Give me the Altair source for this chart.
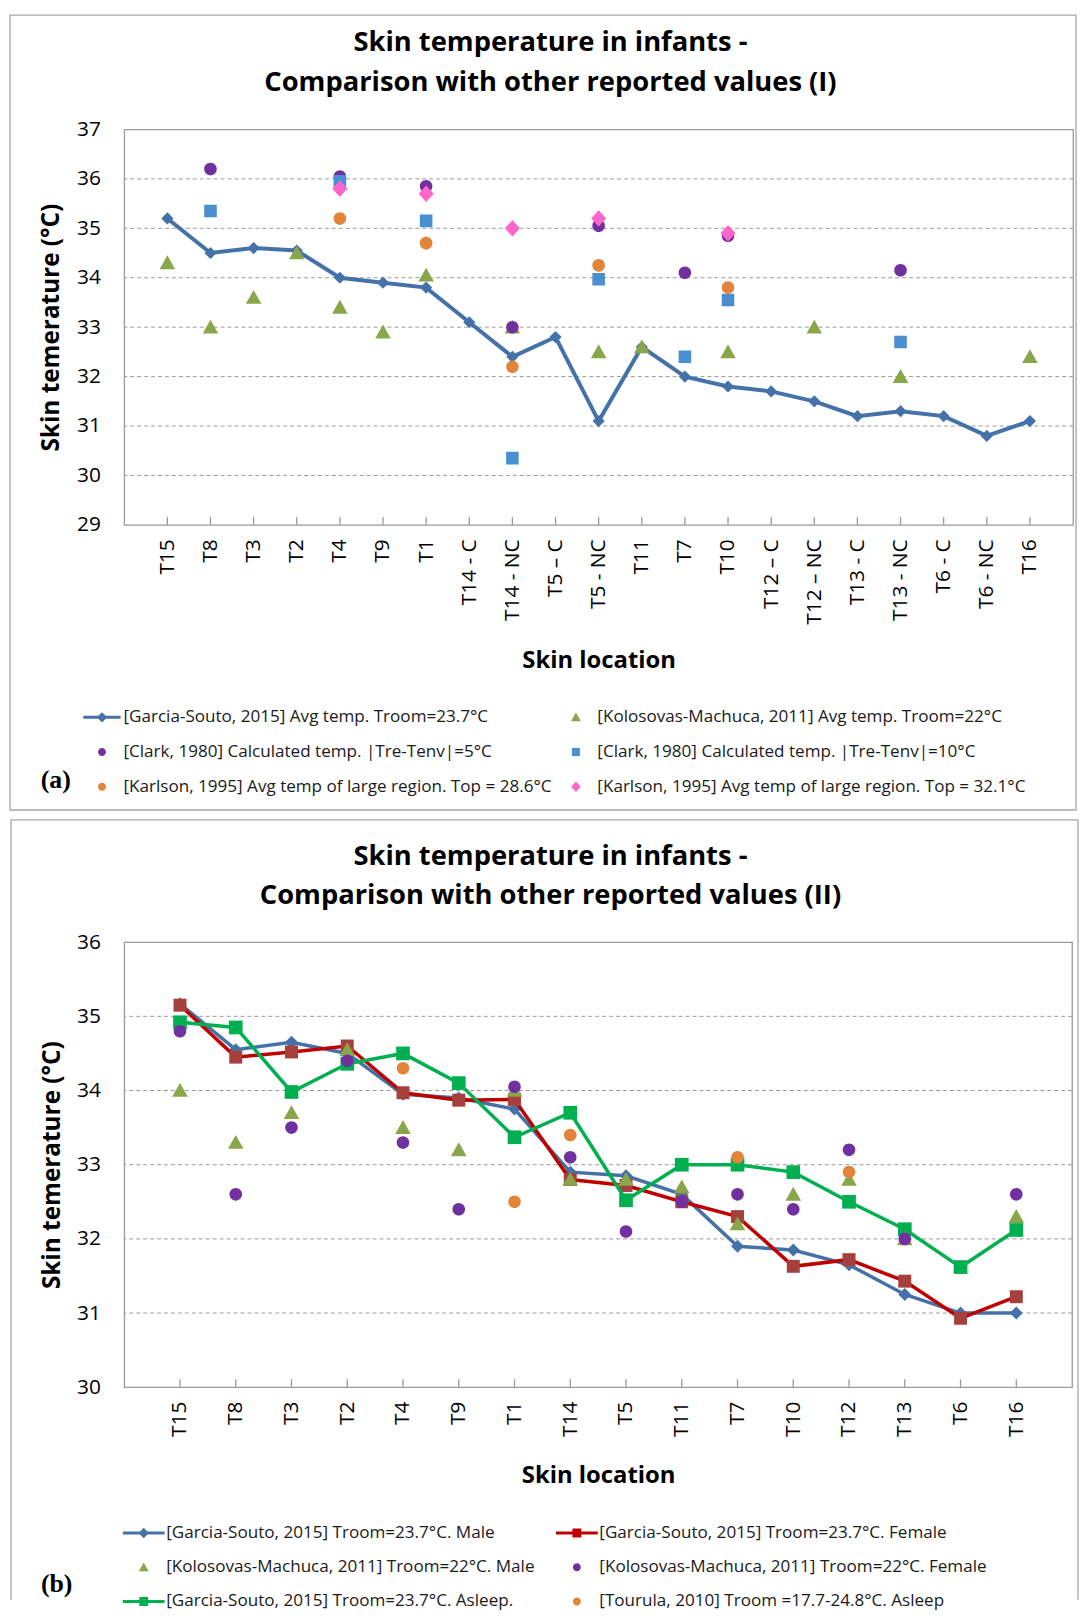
import altair as alt
import pandas as pd

# ---------------- panel (a) data ----------------
cats_a = ["T15", "T8", "T3", "T2", "T4", "T9", "T1", "T14 - C", "T14 - NC", "T5 – C",
          "T5 - NC", "T11", "T7", "T10", "T12 – C", "T12 – NC", "T13 - C", "T13 - NC",
          "T6 - C", "T6 - NC", "T16"]
names_a = ["[Garcia-Souto, 2015] Avg temp. Troom=23.7°C",
           "[Kolosovas-Machuca, 2011] Avg temp. Troom=22°C",
           "[Clark, 1980] Calculated temp. |Tre-Tenv|=5°C",
           "[Clark, 1980] Calculated temp. |Tre-Tenv|=10°C",
           "[Karlson, 1995] Avg temp of large region. Top = 28.6°C",
           "[Karlson, 1995] Avg temp of large region. Top = 32.1°C"]
garcia_a = [35.2, 34.5, 34.6, 34.55, 34.0, 33.9, 33.8, 33.1, 32.4, 32.8, 31.1, 32.6, 32.0,
            31.8, 31.7, 31.5, 31.2, 31.3, 31.2, 30.8, 31.1]
kolos_a = [34.3, 33.0, 33.6, 34.5, 33.4, 32.9, 34.05, None, 33.0, None, 32.5, 32.6, None,
           32.5, None, 33.0, None, 32.0, None, None, 32.4]
clark5_a = [None, 36.2, None, None, 36.05, None, 35.85, None, 33.0, None, 35.05, None, 34.1,
            34.85, None, None, None, 34.15, None, None, None]
clark10_a = [None, 35.35, None, None, 35.95, None, 35.15, None, 30.35, None, 33.97, None, 32.4,
             33.55, None, None, None, 32.7, None, None, None]
karl286_a = [None, None, None, None, 35.2, None, 34.7, None, 32.2, None, 34.25, None, None,
             33.8, None, None, None, None, None, None, None]
karl321_a = [None, None, None, None, 35.8, None, 35.7, None, 35.0, None, 35.2, None, None,
             34.9, None, None, None, None, None, None, None]
yticks_a = [29, 30, 31, 32, 33, 34, 35, 36, 37]
grid_a = [30, 31, 32, 33, 34, 35, 36]

# ---------------- panel (b) data ----------------
cats_b = ["T15", "T8", "T3", "T2", "T4", "T9", "T1", "T14", "T5", "T11", "T7", "T10", "T12",
          "T13", "T6", "T16"]
names_b = ["[Garcia-Souto, 2015] Troom=23.7°C. Male",
           "[Garcia-Souto, 2015] Troom=23.7°C. Female",
           "[Kolosovas-Machuca, 2011] Troom=22°C. Male",
           "[Kolosovas-Machuca, 2011] Troom=22°C. Female",
           "[Garcia-Souto, 2015] Troom=23.7°C. Asleep.",
           "[Tourula, 2010] Troom =17.7-24.8°C. Asleep"]
male_b = [35.17, 34.55, 34.65, 34.5, 33.95, 33.9, 33.75, 32.9, 32.85, 32.6, 31.9, 31.85,
          31.65, 31.25, 31.0, 31.0]
female_b = [35.15, 34.45, 34.52, 34.6, 33.97, 33.87, 33.88, 32.8, 32.72, 32.5, 32.3, 31.63,
            31.72, 31.43, 30.93, 31.22]
kmale_b = [34.0, 33.3, 33.7, 34.55, 33.5, 33.2, 34.0, 32.8, 32.8, 32.7, 32.2, 32.6, 32.8,
           32.0, None, 32.3]
kfemale_b = [34.8, 32.6, 33.5, 34.4, 33.3, 32.4, 34.05, 33.1, 32.1, 32.5, 32.6, 32.4, 33.2,
             32.0, None, 32.6]
asleep_b = [34.92, 34.85, 33.98, 34.36, 34.5, 34.1, 33.37, 33.7, 32.52, 33.0, 33.0, 32.9,
            32.5, 32.13, 31.62, 32.12]
tourula_b = [None, None, None, None, 34.3, None, 32.5, 33.4, None, None, 33.1, None, 32.9,
             None, None, None]
yticks_b = [30, 31, 32, 33, 34, 35, 36]
grid_b = [31, 32, 33, 34, 35]

# ---------------- styling ----------------
FONT = "Open Sans"
GRIDC = "#9a9a9a"
FRAMEC = "#a6a6a6"
BLUE_LINE = "#4472A8"
GREEN_TRI = "#8AA64A"
PURPLE = "#7030A0"
SQ_BLUE = "#4A90D0"
ORANGE = "#E2843A"
PINK = "#FF66CC"
RED_LINE = "#C00000"
RED_SQ = "#A5403D"
GREEN_LINE = "#00B050"

W_A, H_A = 955, 398
W_B, H_B = 954, 448

LEGEND_ORDER = [0, 2, 4, 1, 3, 5]   # legend fills column by column


def stub(h):
    return f"M{-h},-0.19L{h},-0.19L{h},0.19L{-h},0.19Z"


def pad(h):
    return f"M{-h},0L{-h},0.001Z M{h},0L{h},0.001Z "


def shape_set(h):
    p = pad(h)
    return {
        "line_diamond": stub(h) + " M0,-0.65L0.65,0L0,0.65L-0.65,0Z",
        "line_square": stub(h) + " M-0.56,-0.56L0.56,-0.56L0.56,0.56L-0.56,0.56Z",
        "circle": p + "M0.5,0A0.5,0.5 0 1,1 -0.5,0A0.5,0.5 0 1,1 0.5,0Z",
        "triangle": p + "M0,-0.6L0.62,0.5L-0.62,0.5Z",
        "square": p + "M-0.5,-0.5L0.5,-0.5L0.5,0.5L-0.5,0.5Z",
        "diamond": p + "M0,-0.65L0.6,0L0,0.65L-0.6,0Z",
    }


one = pd.DataFrame({"k": [0]})


def text_layer(txt, x, y, size, font=FONT, weight="bold"):
    return alt.Chart(one).mark_text(text=txt, font=font, fontSize=size, fontWeight=weight,
                                    color="black", align="center", baseline="middle").encode(
        x=alt.value(x), y=alt.value(y))


def long_df(cats, names, arrays):
    rows = []
    for nm, arr in zip(names, arrays):
        for c, v in zip(cats, arr):
            if v is not None:
                rows.append({"loc": c, "temp": v, "series": nm})
    return pd.DataFrame(rows)


def axes(cats, W, H, dom, ticks, xtitle_y, ytitle_x):
    x = alt.X("loc:N", scale=alt.Scale(type="point", domain=cats, padding=1),
              axis=alt.Axis(title="Skin location", labelAngle=270, labelFont=FONT,
                            labelFontSize=21, labelColor="black", labelPadding=14,
                            ticks=False, domain=False, grid=False, labelLimit=300,
                            titleFont=FONT, titleFontSize=24, titleFontWeight="bold",
                            titleColor="black", titleX=W / 2, titleY=xtitle_y,
                            titleBaseline="middle", titleAlign="center"))
    y = alt.Y("temp:Q", scale=alt.Scale(domain=dom, nice=False, zero=False),
              axis=alt.Axis(values=ticks, format="d", title="Skin temerature (°C)",
                            labelFont=FONT, labelFontSize=21, labelColor="black",
                            labelPadding=24, ticks=False, domain=False, grid=False,
                            titleFont=FONT, titleFontSize=24.5, titleFontWeight="bold",
                            titleColor="black", titleX=ytitle_x, titleY=H / 2,
                            titleBaseline="middle", titleAlign="center"))
    return x, y


def panel(cats, W, H, dom, ticks, grid_vals, xtitle_y, ytitle_x, lines, scatter_names,
          scatter_arrays, names, colors, shapes, legend, title1, title2, title_y, letter,
          letter_xy, frame_layers, field):
    x, y = axes(cats, W, H, dom, ticks, xtitle_y, ytitle_x)
    layers = list(frame_layers)
    layers.append(alt.Chart(pd.DataFrame({"temp": grid_vals})).mark_rule(
        color=GRIDC, strokeWidth=1, strokeDash=[4, 3]).encode(y=y))
    layers.append(alt.Chart(pd.DataFrame({"loc": cats})).mark_rule(
        color=GRIDC, strokeWidth=1.3).encode(x=x, y=alt.value(H - 8), y2=alt.value(H)))
    for vals, lcol, shp, pcol, psize, lw in lines:
        df = pd.DataFrame({"loc": cats, "temp": vals})
        layers.append(alt.Chart(df).mark_line(color=lcol, strokeWidth=lw).encode(x=x, y=y))
        layers.append(alt.Chart(df).mark_point(shape=shp, filled=True, color=pcol, size=psize,
                                               opacity=1).encode(x=x, y=y))
    sdf = long_df(cats, scatter_names, scatter_arrays).rename(columns={"series": field})
    dom = [names[i] for i in LEGEND_ORDER]
    col = [colors[i] for i in LEGEND_ORDER]
    shp = [shapes[i] for i in LEGEND_ORDER]
    layers.append(alt.Chart(sdf).mark_point(filled=True, opacity=1, size=640).encode(
        x=x, y=y,
        color=alt.Color(f"{field}:N", scale=alt.Scale(domain=dom, range=col), legend=legend),
        shape=alt.Shape(f"{field}:N", scale=alt.Scale(domain=dom, range=shp), legend=legend)))
    layers.append(text_layer(title1, 429, title_y, 27.5))
    layers.append(text_layer(title2, 429, title_y + 40, 27.5))
    layers.append(text_layer(letter, letter_xy[0], letter_xy[1], 26, font="Liberation Serif"))
    return alt.layer(*layers).properties(width=W, height=H)


# ---------- panel (a) ----------
sa = shape_set(2.35)
shapes_a = [sa["line_diamond"], sa["triangle"], sa["circle"], sa["square"], sa["circle"],
            sa["diamond"]]
colors_a = [BLUE_LINE, GREEN_TRI, PURPLE, SQ_BLUE, ORANGE, PINK]
leg_a = alt.Legend(title=None, orient="none", legendX=-31, legendY=583, columns=2,
                   symbolSize=256, symbolOffset=0, labelOffset=13, labelFont=FONT,
                   labelFontSize=17.2, labelColor="#1a1a1a", labelLimit=1000, rowPadding=17,
                   columnPadding=5, padding=0, symbolStrokeWidth=0, symbolOpacity=1)
frame_a = [alt.Chart(one).mark_rect(fillOpacity=0, stroke=FRAMEC, strokeWidth=1.3).encode(
    x=alt.value(-115), x2=alt.value(958), y=alt.value(-115), y2=alt.value(685))]
panel_a = panel(cats_a, W_A, H_A, [29, 37], yticks_a, grid_a, 137, -73,
                [(garcia_a, BLUE_LINE, "diamond", BLUE_LINE, 150, 4)],
                names_a[1:], [kolos_a, clark5_a, clark10_a, karl286_a, karl321_a],
                names_a, colors_a, shapes_a, leg_a,
                "Skin temperature in infants -", "Comparison with other reported values (I)",
                -87, "(a)", (-69, 655), frame_a, "series_a")

# ---------- panel (b) ----------
sb = shape_set(2.63)
shapes_b = [sb["line_diamond"], sb["line_square"], sb["triangle"], sb["circle"],
            sb["line_square"], sb["circle"]]
colors_b = [BLUE_LINE, RED_LINE, GREEN_TRI, PURPLE, GREEN_LINE, ORANGE]
leg_b = alt.Legend(title=None, orient="none", legendX=11, legendY=586, columns=2,
                   symbolSize=256, symbolOffset=0, labelOffset=14, labelFont=FONT,
                   labelFontSize=17.2, labelColor="#1a1a1a", labelLimit=1000, rowPadding=16.5,
                   columnPadding=21, padding=0, symbolStrokeWidth=0, symbolOpacity=1)
frame_b = [
    alt.Chart(one).mark_rule(color=FRAMEC, strokeWidth=1.3).encode(
        x=alt.value(-114), y=alt.value(-123), y2=alt.value(662)),
    alt.Chart(one).mark_rule(color=FRAMEC, strokeWidth=1.3).encode(
        x=alt.value(-114), x2=alt.value(960), y=alt.value(-123)),
    alt.Chart(one).mark_rule(color=FRAMEC, strokeWidth=1.3).encode(
        x=alt.value(960), y=alt.value(-123), y2=alt.value(662)),
]
panel_b = panel(cats_b, W_B, H_B, [30, 36], yticks_b, grid_b, 89, -72,
                [(male_b, BLUE_LINE, "diamond", BLUE_LINE, 170, 3.5),
                 (female_b, RED_LINE, "square", RED_SQ, 170, 3.5),
                 (asleep_b, GREEN_LINE, "square", GREEN_LINE, 190, 3.5)],
                [names_b[2], names_b[3], names_b[5]], [kmale_b, kfemale_b, tourula_b],
                names_b, colors_b, shapes_b, leg_b,
                "Skin temperature in infants -", "Comparison with other reported values (II)",
                -86, "(b)", (-68, 646), frame_b, "series_b")

chart = alt.vconcat(panel_a, panel_b, spacing=6).properties(
    padding={"left": 0, "top": 0, "right": 0, "bottom": 0}
).resolve_scale(
    color="independent", shape="independent", x="independent", y="independent"
).resolve_legend(color="independent", shape="independent").configure_view(
    stroke=GRIDC, strokeWidth=1.3)

chart.save("out.html", embed_options={"renderer": "svg", "actions": False})
